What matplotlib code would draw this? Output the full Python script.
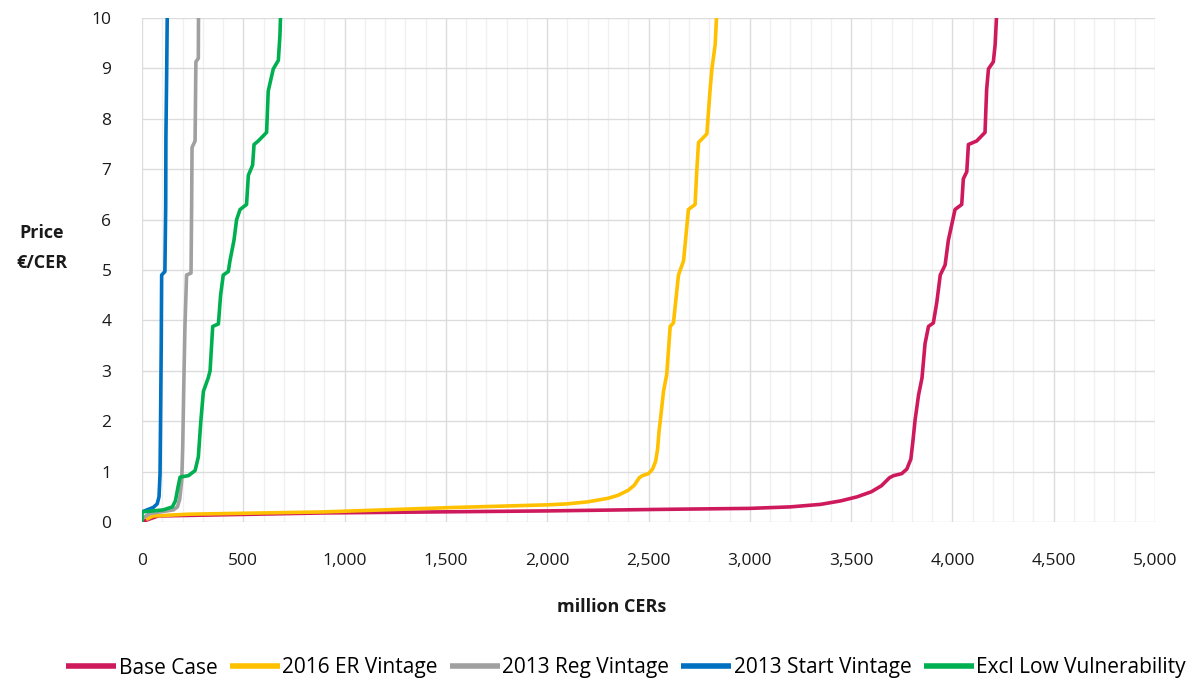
import matplotlib
matplotlib.use("Agg")
import matplotlib.pyplot as plt
from matplotlib import font_manager as fm
from matplotlib.ticker import MultipleLocator, FuncFormatter

# ---------------- data ----------------
base_x = [0, 30, 80, 900, 2000, 2550, 3000, 3200, 3350, 3450, 3530, 3600, 3650, 3690, 3710, 3750,
          3775, 3795, 3805, 3816, 3833, 3850,
          3865, 3882, 3906, 3923, 3940, 3964, 3980, 4013, 4046, 4054, 4071, 4079, 4120, 4161,
          4169, 4178, 4202, 4211, 4220]
base_y = [0.0, 0.05, 0.12, 0.18, 0.22, 0.25, 0.27, 0.30, 0.35, 0.42, 0.50, 0.60, 0.72, 0.88, 0.92, 0.96,
          1.05, 1.25, 1.60, 2.03, 2.52, 2.86,
          3.54, 3.88, 3.95, 4.36, 4.90, 5.10, 5.59, 6.20, 6.30, 6.81, 6.95, 7.49, 7.56, 7.73,
          8.58, 8.99, 9.13, 9.47, 10.2]

er2016_x = [20, 55, 232, 894, 1556, 2000, 2100, 2200, 2300, 2350, 2400, 2430, 2455, 2470, 2500,
            2520, 2535, 2545, 2552, 2558, 2574,
            2590, 2607, 2623, 2648, 2673, 2697, 2730, 2738, 2747, 2788, 2804, 2813, 2829, 2838]
er2016_y = [0.05, 0.12, 0.155, 0.20, 0.29, 0.34, 0.36, 0.40, 0.47, 0.53, 0.63, 0.73, 0.88, 0.92, 0.96,
            1.05, 1.20, 1.45, 1.80, 2.00, 2.59,
            2.93, 3.88, 3.95, 4.90, 5.18, 6.20, 6.30, 6.95, 7.53, 7.70, 8.58, 8.99, 9.47, 10.2]

reg2013_x = [0, 40, 155, 175, 186, 196, 201, 207, 212, 220, 242, 245, 247, 262, 266, 278, 279]
reg2013_y = [0.07, 0.17, 0.24, 0.30, 0.45, 0.82, 1.50, 2.86, 3.88, 4.90, 4.94, 6.27, 7.43, 7.56, 9.13, 9.20, 10.2]

start2013_x = [0, 56, 75, 84, 89, 92, 95, 97, 113, 117, 118, 122, 125]
start2013_y = [0.20, 0.29, 0.36, 0.50, 0.95, 2.18, 3.54, 4.90, 4.97, 6.27, 7.63, 8.99, 10.2]

excl_x = [0, 0, 105, 150, 165, 178, 188, 229, 262, 278, 290, 303, 327, 336, 349, 377, 388, 401, 426,
          434, 454, 467, 484, 516, 525, 546, 553, 574, 615, 623, 648, 673, 681, 685]
excl_y = [0.0, 0.20, 0.24, 0.30, 0.42, 0.70, 0.89, 0.92, 1.02, 1.29, 1.98, 2.59, 2.86, 3.00, 3.88, 3.93, 4.50,
          4.90, 4.97, 5.18, 5.59, 6.00, 6.20, 6.30, 6.88, 7.08, 7.49, 7.56, 7.73, 8.55, 8.99, 9.16, 9.67, 10.2]

series_names = ["Base Case", "2016 ER Vintage", "2013 Reg Vintage", "2013 Start Vintage",
                "Excl Low Vulnerability"]
series_colors = ["#CE1A5C", "#FFC000", "#A0A0A0", "#0070C0", "#00B050"]

x_ticks = list(range(0, 5001, 500))
y_ticks = list(range(0, 11))

# ---------------- fonts ----------------
available = {f.name for f in fm.fontManager.ttflist}
main_font = "Open Sans" if "Open Sans" in available else "DejaVu Sans"
plt.rcParams["font.family"] = [main_font, "DejaVu Sans"]

# ---------------- figure ----------------
fig = plt.figure(figsize=(11.95, 6.81), dpi=100)
ax = fig.add_axes([142 / 1195, 1 - 522 / 681, (1155 - 142) / 1195, (522 - 18) / 681])

series = [(base_x, base_y), (er2016_x, er2016_y), (reg2013_x, reg2013_y),
          (start2013_x, start2013_y), (excl_x, excl_y)]
for (xs, ys), name, col in zip(series, series_names, series_colors):
    ax.plot(xs, ys, color=col, lw=2.6, label=name, solid_joinstyle="round",
            solid_capstyle="butt", zorder=3)

ax.set_xlim(0, 5000)
ax.set_ylim(0, 10)
ax.set_xticks(x_ticks)
ax.set_yticks(y_ticks)
ax.xaxis.set_minor_locator(MultipleLocator(100))
ax.xaxis.set_major_formatter(FuncFormatter(lambda v, p: f"{int(v):,}"))
ax.grid(which="major", color="#DCDCDC", lw=1.0, zorder=0)
ax.grid(which="minor", axis="x", color="#F0F0F0", lw=1.0, zorder=0)
ax.set_axisbelow(True)
for s in ax.spines.values():
    s.set_visible(False)
ax.tick_params(which="both", length=0)
ax.tick_params(axis="x", pad=22, labelsize=12.5, colors="#1a1a1a")
ax.tick_params(axis="y", pad=22, labelsize=12.5, colors="#1a1a1a")

fig.text(42 / 1195, 1 - 248 / 681, "Price\n€/CER", ha="center", va="center",
         fontsize=13, fontweight="bold", linespacing=1.9, color="#1a1a1a")
fig.text(612 / 1195, 1 - 607 / 681, "million CERs", ha="center", va="center",
         fontsize=13, fontweight="bold", color="#1a1a1a")

leg = fig.legend(loc="center", bbox_to_anchor=(626 / 1195, 1 - 668 / 681), ncol=5,
                 frameon=False, prop={"family": main_font, "size": 15},
                 handlelength=2.4, handletextpad=0.1, columnspacing=0.6, borderpad=0)
for line in leg.get_lines():
    line.set_linewidth(4)

fig.savefig("out.png", dpi=100)
